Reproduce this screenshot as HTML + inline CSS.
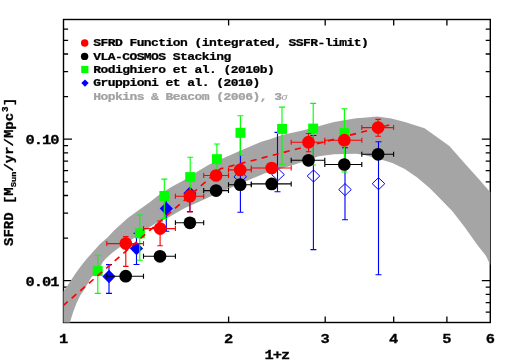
<!DOCTYPE html>
<html><head><meta charset="utf-8"><title>SFRD</title>
<style>html,body{margin:0;padding:0;background:#fff}svg{display:block;will-change:transform}</style></head>
<body><svg width="509" height="363" viewBox="0 0 509 363">
<rect width="509" height="363" fill="#fff"/>
<path d="M228.6 322.5v-6M228.6 19.5v6M325.2 322.5v-6M325.2 19.5v6M393.7 322.5v-6M393.7 19.5v6M446.9 322.5v-6M446.9 19.5v6M63.5 312.1h4.6M490.3 312.1h-4.6M63.5 302.6h4.6M490.3 302.6h-4.6M63.5 294.4h4.6M490.3 294.4h-4.6M63.5 287.2h4.6M490.3 287.2h-4.6M63.5 280.7h8.5M490.3 280.7h-8.5M63.5 238.1h4.6M490.3 238.1h-4.6M63.5 213.2h4.6M490.3 213.2h-4.6M63.5 195.5h4.6M490.3 195.5h-4.6M63.5 181.8h4.6M490.3 181.8h-4.6M63.5 170.6h4.6M490.3 170.6h-4.6M63.5 161.1h4.6M490.3 161.1h-4.6M63.5 152.9h4.6M490.3 152.9h-4.6M63.5 145.7h4.6M490.3 145.7h-4.6M63.5 139.2h8.5M490.3 139.2h-8.5M63.5 96.6h4.6M490.3 96.6h-4.6M63.5 71.7h4.6M490.3 71.7h-4.6M63.5 54.0h4.6M490.3 54.0h-4.6M63.5 40.3h4.6M490.3 40.3h-4.6M63.5 29.1h4.6M490.3 29.1h-4.6" stroke="#000" stroke-width="1.3" fill="none"/><rect x="63.5" y="19.5" width="426.8" height="303.0" fill="none" stroke="#000" stroke-width="1.4"/>
<polygon fill="#a5a5a5" points="63.5,291.6 66.6,286.8 69.6,282.4 72.0,278.8 75.0,274.3 79.3,268.2 83.3,263.0 87.0,258.5 91.5,253.6 100.0,244.0 108.0,237.0 114.0,230.6 122.3,223.0 127.5,218.2 141.3,208.2 150.0,201.9 157.9,195.8 165.0,191.0 171.3,187.0 183.4,180.5 195.0,173.0 208.8,164.8 222.5,158.6 229.4,155.4 240.7,150.5 261.3,141.8 270.0,139.2 282.0,135.0 302.6,130.4 312.0,128.0 334.1,122.0 340.0,120.9 356.1,118.3 366.5,117.4 377.3,116.4 391.3,118.6 404.8,122.0 424.6,128.2 449.4,146.0 466.8,165.8 479.2,179.4 490.3,192.3 490.3,265.0 485.9,255.8 477.2,244.7 464.8,227.3 452.4,211.2 439.5,198.0 429.6,188.1 417.2,177.5 404.8,169.0 392.4,163.0 380.0,159.2 363.2,154.7 356.1,153.8 334.1,154.2 318.7,156.3 298.5,163.2 288.2,166.5 265.0,173.3 250.1,179.4 230.8,187.7 222.5,191.2 208.8,197.3 198.0,202.2 185.0,208.0 176.0,213.0 166.3,218.8 157.0,222.6 146.5,229.3 133.0,238.7 126.0,243.0 120.0,247.0 115.9,250.0 112.6,252.5 109.2,255.4 105.9,258.4 102.6,262.2 100.3,267.8 97.0,271.5 91.0,277.8 87.5,284.0 84.5,289.3 80.2,295.5 76.3,303.7 73.0,312.5 69.9,322.5 63.5,322.5"/>
<path d="M109.0 264.6V293.4M106.0 264.6h6.0M106.0 293.4h6.0" stroke="#0000ff" stroke-width="1.12" fill="none"/>
<polygon fill="#0000ff" points="102.4,276.5 109.0,269.8 115.6,276.5 109.0,283.2"/>
<path d="M136.5 233.4V264.5M133.5 233.4h6.0M133.5 264.5h6.0" stroke="#0000ff" stroke-width="1.12" fill="none"/>
<polygon fill="#0000ff" points="129.9,248.5 136.5,241.8 143.1,248.5 136.5,255.2"/>
<path d="M166.3 197.0V231.2M163.3 197.0h6.0M163.3 231.2h6.0" stroke="#0000ff" stroke-width="1.12" fill="none"/>
<polygon fill="#0000ff" points="159.7,208.6 166.3,201.9 172.9,208.6 166.3,215.3"/>
<path d="M189.9 191.0V211.6M186.9 191.0h6.0M186.9 211.6h6.0" stroke="#0000ff" stroke-width="1.12" fill="none"/>
<polygon fill="#0000ff" points="183.3,193.3 189.9,186.6 196.5,193.3 189.9,200.0"/>
<path d="M240.4 133.0V212.3M237.4 133.0h6.0M237.4 212.3h6.0" stroke="#0000ff" stroke-width="1.12" fill="none"/>
<polygon fill="none" stroke="#0000ff" stroke-width="1.0" points="233.9,176.8 240.2,170.8 246.5,176.8 240.2,182.8"/>
<path d="M277.5 132.4V191.7M274.5 132.4h6.0M274.5 191.7h6.0" stroke="#0000ff" stroke-width="1.12" fill="none"/>
<polygon fill="none" stroke="#0000ff" stroke-width="1.0" points="271.7,174.6 278.0,168.6 284.3,174.6 278.0,180.6"/>
<path d="M313.4 135.5V249.6M310.4 135.5h6.0M310.4 249.6h6.0" stroke="#0000ff" stroke-width="1.12" fill="none"/>
<polygon fill="none" stroke="#0000ff" stroke-width="1.0" points="307.2,176.0 313.5,170.0 319.8,176.0 313.5,182.0"/>
<path d="M345.0 147.8V219.8M342.0 147.8h6.0M342.0 219.8h6.0" stroke="#0000ff" stroke-width="1.12" fill="none"/>
<polygon fill="none" stroke="#0000ff" stroke-width="1.0" points="338.7,189.6 345.0,183.6 351.3,189.6 345.0,195.6"/>
<path d="M378.5 141.8V274.8M375.5 141.8h6.0M375.5 274.8h6.0" stroke="#0000ff" stroke-width="1.12" fill="none"/>
<polygon fill="none" stroke="#0000ff" stroke-width="1.0" points="372.2,183.7 378.5,177.7 384.8,183.7 378.5,189.7"/>
<path d="M97.8 255.2V293.4M94.8 255.2h6.0M94.8 293.4h6.0" stroke="#00ff00" stroke-width="1.12" fill="none"/>
<rect fill="#00ff00" x="92.8" y="266.1" width="9.9" height="9.9"/>
<path d="M139.8 215.0V260.2M136.8 215.0h6.0M136.8 260.2h6.0" stroke="#00ff00" stroke-width="1.12" fill="none"/>
<rect fill="#00ff00" x="134.9" y="228.4" width="9.9" height="9.9"/>
<path d="M164.3 179.1V218.5M161.3 179.1h6.0M161.3 218.5h6.0" stroke="#00ff00" stroke-width="1.12" fill="none"/>
<rect fill="#00ff00" x="159.4" y="191.0" width="9.9" height="9.9"/>
<path d="M190.2 157.3V200.0M187.2 157.3h6.0M187.2 200.0h6.0" stroke="#00ff00" stroke-width="1.12" fill="none"/>
<rect fill="#00ff00" x="185.2" y="172.1" width="9.9" height="9.9"/>
<path d="M216.9 144.0V179.0M213.9 144.0h6.0M213.9 179.0h6.0" stroke="#00ff00" stroke-width="1.12" fill="none"/>
<rect fill="#00ff00" x="212.0" y="154.2" width="9.9" height="9.9"/>
<path d="M240.4 115.8V155.2M237.4 115.8h6.0M237.4 155.2h6.0" stroke="#00ff00" stroke-width="1.12" fill="none"/>
<rect fill="#00ff00" x="235.5" y="127.9" width="9.9" height="9.9"/>
<path d="M282.0 107.1V164.2M279.0 107.1h6.0M279.0 164.2h6.0" stroke="#00ff00" stroke-width="1.12" fill="none"/>
<rect fill="#00ff00" x="277.1" y="124.0" width="9.9" height="9.9"/>
<path d="M313.2 103.4V165.0M310.2 103.4h6.0M310.2 165.0h6.0" stroke="#00ff00" stroke-width="1.12" fill="none"/>
<rect fill="#00ff00" x="308.2" y="123.6" width="9.9" height="9.9"/>
<path d="M344.4 108.8V172.0M341.4 108.8h6.0M341.4 172.0h6.0" stroke="#00ff00" stroke-width="1.12" fill="none"/>
<rect fill="#00ff00" x="339.4" y="128.2" width="9.9" height="9.9"/>
<path d="M63.5 305.4L220.5 168.8L390 124.8" stroke="#ff0000" stroke-width="1.65" stroke-dasharray="6.2 5.22" stroke-dashoffset="0.62" fill="none"/>
<path d="M106.8 276.2H143.5M106.8 273.7v5.0M143.5 273.7v5.0" stroke="#000" stroke-width="1.12" fill="none"/>
<circle cx="125.7" cy="276.2" r="6.35" fill="#000"/>
<path d="M143.5 256.3H175.4M143.5 253.8v5.0M175.4 253.8v5.0" stroke="#000" stroke-width="1.12" fill="none"/>
<circle cx="160.0" cy="256.3" r="6.35" fill="#000"/>
<path d="M175.4 222.8H203.7M175.4 220.3v5.0M203.7 220.3v5.0" stroke="#000" stroke-width="1.12" fill="none"/>
<circle cx="189.9" cy="222.8" r="6.35" fill="#000"/>
<path d="M203.7 190.6H228.5M203.7 188.1v5.0M228.5 188.1v5.0" stroke="#000" stroke-width="1.12" fill="none"/>
<circle cx="216.1" cy="190.6" r="6.35" fill="#000"/>
<path d="M228.5 184.7H251.3M228.5 182.2v5.0M251.3 182.2v5.0" stroke="#000" stroke-width="1.12" fill="none"/>
<circle cx="240.2" cy="184.7" r="6.35" fill="#000"/>
<path d="M251.3 183.9H291.2M251.3 181.4v5.0M291.2 181.4v5.0" stroke="#000" stroke-width="1.12" fill="none"/>
<circle cx="271.7" cy="183.9" r="6.35" fill="#000"/>
<path d="M291.2 160.3H324.8M291.2 157.8v5.0M324.8 157.8v5.0" stroke="#000" stroke-width="1.12" fill="none"/>
<circle cx="308.5" cy="160.3" r="6.35" fill="#000"/>
<path d="M324.8 164.5H361.8M324.8 162.0v5.0M361.8 162.0v5.0" stroke="#000" stroke-width="1.12" fill="none"/>
<circle cx="344.3" cy="164.5" r="6.35" fill="#000"/>
<path d="M361.8 154.3H393.6M361.8 151.8v5.0M393.6 151.8v5.0" stroke="#000" stroke-width="1.12" fill="none"/>
<circle cx="378.1" cy="154.3" r="6.35" fill="#000"/>
<path d="M106.8 243.6H143.5M106.8 241.1v5.0M143.5 241.1v5.0" stroke="#ff0000" stroke-width="1.12" fill="none"/>
<path d="M125.8 236.6V266.4M123.0 236.6h5.5M123.0 266.4h5.5" stroke="#ff0000" stroke-width="1.12" fill="none"/>
<circle cx="125.8" cy="243.6" r="6.35" fill="#ff0000"/>
<path d="M143.5 228.6H175.4M143.5 226.1v5.0M175.4 226.1v5.0" stroke="#ff0000" stroke-width="1.12" fill="none"/>
<path d="M160.1 221.0V245.8M157.3 221.0h5.5M157.3 245.8h5.5" stroke="#ff0000" stroke-width="1.12" fill="none"/>
<circle cx="160.1" cy="228.6" r="6.35" fill="#ff0000"/>
<path d="M175.4 196.2H203.7M175.4 193.7v5.0M203.7 193.7v5.0" stroke="#ff0000" stroke-width="1.12" fill="none"/>
<path d="M189.9 192.0V212.0M187.2 192.0h5.5M187.2 212.0h5.5" stroke="#ff0000" stroke-width="1.12" fill="none"/>
<circle cx="189.9" cy="196.2" r="6.35" fill="#ff0000"/>
<path d="M203.7 175.5H228.5M203.7 173.0v5.0M228.5 173.0v5.0" stroke="#ff0000" stroke-width="1.12" fill="none"/>
<circle cx="216.1" cy="175.5" r="6.35" fill="#ff0000"/>
<path d="M228.5 169.9H251.3M228.5 167.4v5.0M251.3 167.4v5.0" stroke="#ff0000" stroke-width="1.12" fill="none"/>
<circle cx="240.2" cy="169.9" r="6.35" fill="#ff0000"/>
<path d="M251.3 168.0H291.2M251.3 165.5v5.0M291.2 165.5v5.0" stroke="#ff0000" stroke-width="1.12" fill="none"/>
<circle cx="271.7" cy="168.0" r="6.35" fill="#ff0000"/>
<path d="M291.2 142.2H324.8M291.2 139.7v5.0M324.8 139.7v5.0" stroke="#ff0000" stroke-width="1.12" fill="none"/>
<path d="M308.5 133.5V151.8M305.8 133.5h5.5M305.8 151.8h5.5" stroke="#ff0000" stroke-width="1.12" fill="none"/>
<circle cx="308.5" cy="142.2" r="6.35" fill="#ff0000"/>
<path d="M324.8 140.2H361.8M324.8 137.7v5.0M361.8 137.7v5.0" stroke="#ff0000" stroke-width="1.12" fill="none"/>
<circle cx="344.3" cy="140.2" r="6.35" fill="#ff0000"/>
<path d="M361.8 127.6H393.6M361.8 125.1v5.0M393.6 125.1v5.0" stroke="#ff0000" stroke-width="1.12" fill="none"/>
<path d="M378.1 119.4V136.3M375.4 119.4h5.5M375.4 136.3h5.5" stroke="#ff0000" stroke-width="1.12" fill="none"/>
<circle cx="378.1" cy="127.6" r="6.35" fill="#ff0000"/>
<g font-family="'Liberation Mono', monospace" font-weight="bold" fill="#000" stroke="#000" stroke-width="0.3"><text transform="translate(63.5,343.1) scale(1.1,0.94)" text-anchor="middle" font-size="14">1</text><text transform="translate(228.6,343.1) scale(1.1,0.94)" text-anchor="middle" font-size="14">2</text><text transform="translate(325.2,343.1) scale(1.1,0.94)" text-anchor="middle" font-size="14">3</text><text transform="translate(393.7,343.1) scale(1.1,0.94)" text-anchor="middle" font-size="14">4</text><text transform="translate(446.9,343.1) scale(1.1,0.94)" text-anchor="middle" font-size="14">5</text><text transform="translate(490.3,343.1) scale(1.1,0.94)" text-anchor="middle" font-size="14">6</text><text transform="translate(276.9,359.3) scale(1.1,0.94)" text-anchor="middle" letter-spacing="-0.9" font-size="14">1+z</text><text transform="translate(58.6,144.4) scale(1.1,0.94)" text-anchor="end" letter-spacing="-0.9" font-size="14">0.10</text><text transform="translate(58.6,285.9) scale(1.1,0.94)" text-anchor="end" letter-spacing="-0.9" font-size="14">0.01</text><text transform="translate(13.1,246) rotate(-90) scale(1,0.93)" font-size="14">SFRD [M<tspan font-size="8.7" dy="3.2">Sun</tspan><tspan dy="-3.2">/yr/Mpc</tspan><tspan font-size="9.3" dy="-6" dx="0.9">3</tspan><tspan dy="6" dx="0.5">]</tspan></text><text transform="translate(93.2,46.2) scale(1,0.82)" font-size="13" letter-spacing="-0.555" stroke="#000" stroke-width="0.3" fill="#000">SFRD Function (integrated, SSFR-limit)</text><text transform="translate(93.2,59.5) scale(1,0.82)" font-size="13" letter-spacing="-0.555" stroke="#000" stroke-width="0.3" fill="#000">VLA-COSMOS Stacking</text><text transform="translate(93.2,72.8) scale(1,0.82)" font-size="13" letter-spacing="-0.555" stroke="#000" stroke-width="0.3" fill="#000">Rodighiero et al. (2010b)</text><text transform="translate(93.2,86.2) scale(1,0.82)" font-size="13" letter-spacing="-0.555" stroke="#000" stroke-width="0.3" fill="#000">Gruppioni et al. (2010)</text><text transform="translate(93.2,99.5) scale(1,0.82)" font-size="13" letter-spacing="-0.555" stroke="#a2a2a2" stroke-width="0.3" fill="#a2a2a2">Hopkins &amp; Beacom (2006), 3<tspan font-family="Liberation Serif" font-style="italic" font-weight="normal" stroke="none" font-size="12">σ</tspan></text></g>
<circle cx="84.7" cy="43.0" r="3.75" fill="#ff0000"/>
<circle cx="84.6" cy="56.4" r="3.7" fill="#000"/>
<rect x="81.2" y="65.9" width="7.2" height="7.2" fill="#00ff00"/>
<polygon points="81.3,83.1 85,79.4 88.7,83.1 85,86.8" fill="#0000ff"/>
</svg></body></html>
